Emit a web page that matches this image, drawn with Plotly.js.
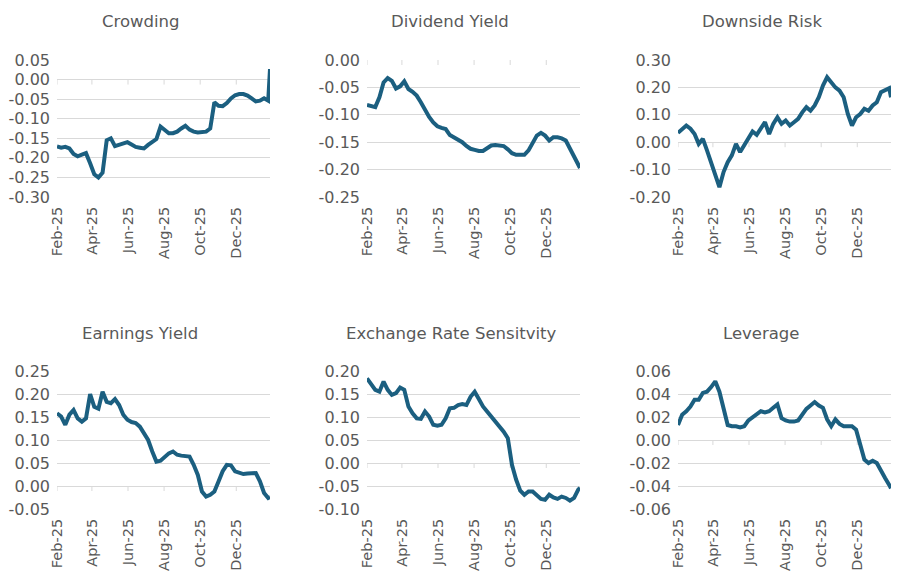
<!DOCTYPE html>
<html><head><meta charset="utf-8">
<script src="https://cdn.plot.ly/plotly-3.0.1.min.js"></script>
<style>html,body{margin:0;padding:0;background:#fff}#chart{width:914px;height:581px}</style>
</head><body><div id="chart"></div>
<script>
// Weekly observation dates (plus last day)
const dates = ['2025-02-01','2025-02-08','2025-02-15','2025-02-22','2025-03-01','2025-03-08','2025-03-15','2025-03-22','2025-03-29',
'2025-04-05','2025-04-12','2025-04-19','2025-04-26','2025-05-03','2025-05-10','2025-05-17','2025-05-24','2025-05-31',
'2025-06-07','2025-06-14','2025-06-21','2025-06-28','2025-07-05','2025-07-12','2025-07-19','2025-07-26',
'2025-08-02','2025-08-09','2025-08-16','2025-08-23','2025-08-30','2025-09-06','2025-09-13','2025-09-20','2025-09-27',
'2025-10-04','2025-10-11','2025-10-18','2025-10-25','2025-11-01','2025-11-08','2025-11-15','2025-11-22','2025-11-29',
'2025-12-06','2025-12-13','2025-12-20','2025-12-27','2026-01-03','2026-01-10','2026-01-17','2026-01-24','2026-01-27'];

const tickDates = ['2025-02-01','2025-04-01','2025-06-01','2025-08-01','2025-10-01','2025-12-01'];
const tickLabels = ['Feb-25','Apr-25','Jun-25','Aug-25','Oct-25','Dec-25'];

const titles = ['Crowding','Dividend Yield','Downside Risk','Earnings Yield','Exchange Rate Sensitvity','Leverage'];

const crowding = [-0.171,-0.174,-0.172,-0.176,-0.190,-0.196,-0.192,-0.188,-0.214,-0.242,-0.250,-0.238,-0.155,-0.150,-0.170,-0.167,-0.163,-0.160,
-0.166,-0.172,-0.174,-0.176,-0.167,-0.159,-0.152,-0.120,-0.130,-0.137,-0.137,-0.133,-0.125,-0.118,-0.128,-0.133,-0.135,
-0.135,-0.133,-0.125,-0.058,-0.067,-0.068,-0.060,-0.048,-0.040,-0.037,-0.037,-0.041,-0.048,-0.056,-0.054,-0.048,-0.054,0.027];

const dividendYield = [-0.082,-0.084,-0.086,-0.068,-0.041,-0.033,-0.038,-0.052,-0.048,-0.039,-0.053,-0.058,-0.065,-0.077,-0.092,-0.104,-0.114,-0.121,
-0.124,-0.126,-0.137,-0.141,-0.144,-0.150,-0.157,-0.162,-0.164,-0.166,-0.166,-0.161,-0.156,-0.155,-0.156,-0.157,-0.163,
-0.170,-0.173,-0.173,-0.173,-0.165,-0.150,-0.138,-0.133,-0.138,-0.147,-0.141,-0.141,-0.143,-0.147,-0.162,-0.174,-0.191,-0.197];

const downsideRisk = [0.034,0.046,0.061,0.049,0.030,-0.006,0.012,-0.030,-0.073,-0.121,-0.164,-0.109,-0.073,-0.048,-0.006,-0.036,-0.012,0.012,
0.039,0.027,0.049,0.073,0.030,0.067,0.091,0.067,0.079,0.061,0.073,0.085,0.109,0.128,0.115,0.134,0.164,
0.207,0.237,0.219,0.200,0.188,0.164,0.103,0.061,0.091,0.103,0.122,0.115,0.134,0.146,0.182,0.188,0.197,0.164];

const earningsYield = [0.158,0.151,0.133,0.155,0.165,0.147,0.140,0.147,0.200,0.172,0.168,0.205,0.183,0.180,0.189,0.176,0.155,0.144,
0.139,0.137,0.129,0.115,0.100,0.075,0.053,0.055,0.064,0.071,0.075,0.068,0.066,0.066,0.064,0.046,0.024,
-0.012,-0.023,-0.019,-0.012,0.010,0.032,0.046,0.045,0.032,0.028,0.026,0.027,0.028,0.028,0.010,-0.015,-0.026,-0.024];

const exchangeRate = [0.184,0.171,0.159,0.155,0.177,0.159,0.148,0.152,0.164,0.159,0.123,0.108,0.097,0.096,0.112,0.101,0.083,0.081,
0.083,0.097,0.119,0.120,0.126,0.128,0.126,0.144,0.155,0.139,0.123,0.112,0.101,0.092,0.079,0.068,0.054,
-0.004,-0.036,-0.060,-0.069,-0.062,-0.062,-0.069,-0.078,-0.080,-0.069,-0.075,-0.078,-0.073,-0.076,-0.082,-0.076,-0.058,-0.054];

const leverage = [0.013,0.022,0.025,0.029,0.035,0.035,0.041,0.042,0.046,0.051,0.042,0.028,0.013,0.012,0.012,0.011,0.012,0.017,
0.020,0.022,0.025,0.024,0.025,0.028,0.031,0.019,0.017,0.016,0.016,0.017,0.022,0.027,0.030,0.033,0.030,
0.028,0.018,0.012,0.018,0.014,0.012,0.012,0.012,0.009,-0.004,-0.017,-0.020,-0.018,-0.020,-0.027,-0.033,-0.039,-0.042];

const ticksCrowding = [-0.30,-0.25,-0.20,-0.15,-0.10,-0.05,0.00,0.05];
const ticksDividend = [-0.25,-0.20,-0.15,-0.10,-0.05,0.00];
const ticksDownside = [-0.20,-0.10,0.00,0.10,0.20,0.30];
const ticksEarnings = [-0.05,0.00,0.05,0.10,0.15,0.20,0.25];
const ticksExchange = [-0.10,-0.05,0.00,0.05,0.10,0.15,0.20];
const ticksLeverage = [-0.06,-0.04,-0.02,0.00,0.02,0.04,0.06];

const seriesList = [crowding, dividendYield, downsideRisk, earningsYield, exchangeRate, leverage];
const tickList = [ticksCrowding, ticksDividend, ticksDownside, ticksEarnings, ticksExchange, ticksLeverage];

const W = 914, H = 581;
const colPx = [[57,270],[367,580],[678,891]];
const rowPx = [[60,197],[371,509]];
const titlePos = [[141,22],[450,22],[762,22],[140,333],[451,333],[761,333]];

const gray = '#595959';
const grid = '#d9d9d9';
const lineColor = '#1b5f80';
const fontFam = 'DejaVu Sans, Liberation Sans, sans-serif';

const traces = [], annotations = [], shapes = [];
const layout = {
  width: W, height: H, margin: {l:0,r:0,t:0,b:0},
  paper_bgcolor: '#fff', plot_bgcolor: '#fff', showlegend: false,
  font: {family: fontFam, color: gray, size: 15}
};

for (let i = 0; i < 6; i++) {
  const r = Math.floor(i / 3), c = i % 3;
  const sfx = i === 0 ? '' : String(i + 1);
  const xa = 'x' + sfx, ya = 'y' + sfx;
  const ticks = tickList[i];
  traces.push({
    type: 'scatter', mode: 'lines', x: dates, y: seriesList[i],
    xaxis: xa, yaxis: ya,
    line: {color: lineColor, width: 4, shape: 'linear'},
    hoverinfo: 'skip'
  });
  layout['xaxis' + sfx] = {
    domain: [colPx[c][0] / W, colPx[c][1] / W],
    anchor: ya, type: 'date',
    range: ['2025-02-01', '2026-01-27'],
    tickvals: tickDates, ticktext: tickLabels, tickangle: -90,
    showgrid: false, zeroline: false, showline: false, ticks: '',
    tickfont: {family: fontFam, size: 14.5, color: gray},
    ticklabelstandoff: 6, fixedrange: true
  };
  layout['yaxis' + sfx] = {
    domain: [1 - rowPx[r][1] / H, 1 - rowPx[r][0] / H],
    anchor: xa,
    range: [ticks[0], ticks[ticks.length - 1]],
    tickvals: ticks, ticktext: ticks.map(v => v.toFixed(2)),
    showgrid: true, gridcolor: grid, gridwidth: 1,
    zeroline: false, showline: false, ticks: '',
    tickfont: {family: fontFam, size: 16, color: gray},
    ticklabelstandoff: 6, fixedrange: true
  };
  annotations.push({
    text: titles[i], xref: 'paper', yref: 'paper',
    x: titlePos[i][0] / W, y: 1 - titlePos[i][1] / H,
    xanchor: 'center', yanchor: 'middle', showarrow: false,
    font: {family: fontFam, size: 16.5, color: gray}
  });
  tickDates.forEach(d => {
    shapes.push({
      type: 'line', xref: xa, yref: ya, x0: d, x1: d,
      ysizemode: 'pixel', yanchor: 0, y0: 0, y1: -5,
      line: {color: grid, width: 1}, layer: 'below'
    });
  });
}
layout.annotations = annotations;
layout.shapes = shapes;

Plotly.newPlot('chart', traces, layout, {staticPlot: true, displayModeBar: false});
</script>
</body></html>
